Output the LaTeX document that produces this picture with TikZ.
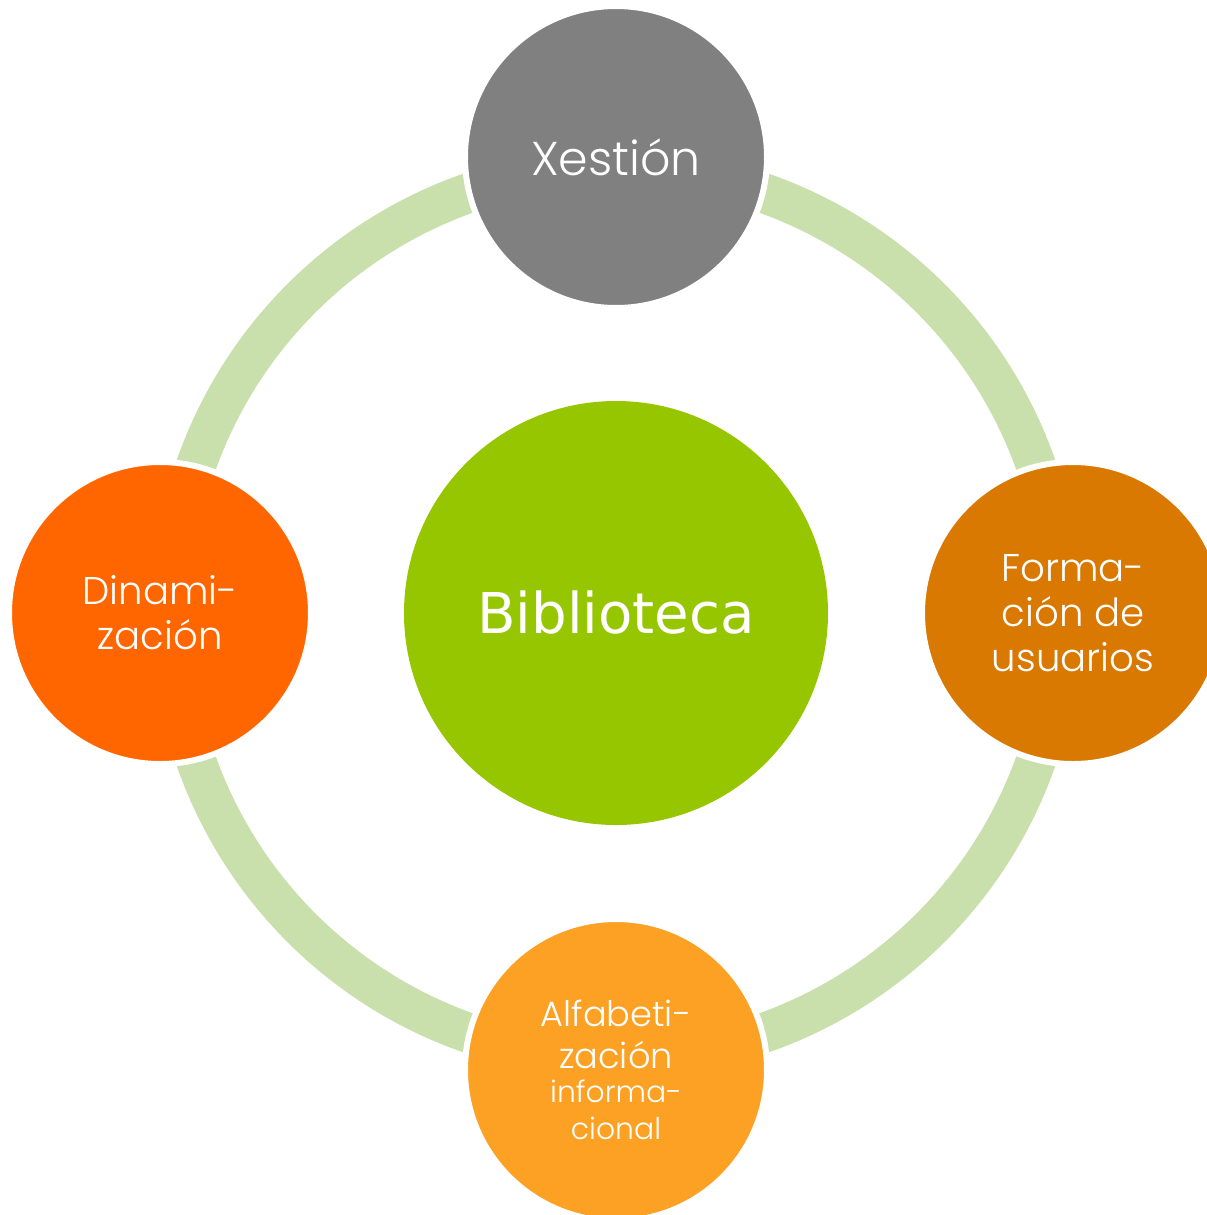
\documentclass[tikz,border=0pt]{standalone}
\usepackage{fontspec}
\setmainfont{Poppins}[UprightFont=* Light]
\newfontfamily\bibfont{DejaVu Sans}

\definecolor{ringgreen}{RGB}{201,224,173}
\definecolor{hubgreen}{RGB}{149,198,0}
\definecolor{xestiongray}{RGB}{128,128,128}
\definecolor{dinorange}{RGB}{255,102,0}
\definecolor{formorange}{RGB}{217,121,2}
\definecolor{alforange}{RGB}{252,161,36}

\tikzset{
  ring/.style={ringgreen,line width=0.8cm},
  hubdisc/.style={circle,fill=hubgreen,minimum size=8.48cm,inner sep=0pt,text=white,
    font={\bibfont\fontsize{32}{40}\selectfont}},
  satdisc/.style={circle,draw=white,line width=0.12cm,minimum size=6.04cm,inner sep=0pt,
    text=white,align=center,font={\fontsize{22}{25.5}\selectfont}}
}

\begin{document}
\begin{tikzpicture}
  \useasboundingbox (0,0) rectangle (24.14,-24.30);
  \coordinate (hub) at (12.32,-12.26);

  % ring behind everything
  \draw[ring] (hub) circle[radius=8.9cm];

  \node[hubdisc] (biblioteca) at (hub) {Biblioteca};

  \node[satdisc,fill=xestiongray,font={\fontsize{27}{32}\selectfont}] (xestion) at (12.32,-3.14) {Xestión};
  \node[satdisc,fill=formorange] (formacion) at (21.46,-12.26) {Forma-\\ción de\\usuarios};
  \node[satdisc,fill=alforange,font={\fontsize{20}{23.8}\selectfont}] (alfabetizacion) at (12.32,-21.40)
    {Alfabeti-\\zación\\[-0.15cm]{\fontsize{17}{19}\selectfont informa-}\\[-0.1cm]{\fontsize{17}{19}\selectfont cional}};
  \node[satdisc,fill=dinorange] (dinamizacion) at (3.20,-12.26) {Dinami-\\zación};
\end{tikzpicture}
\end{document}
